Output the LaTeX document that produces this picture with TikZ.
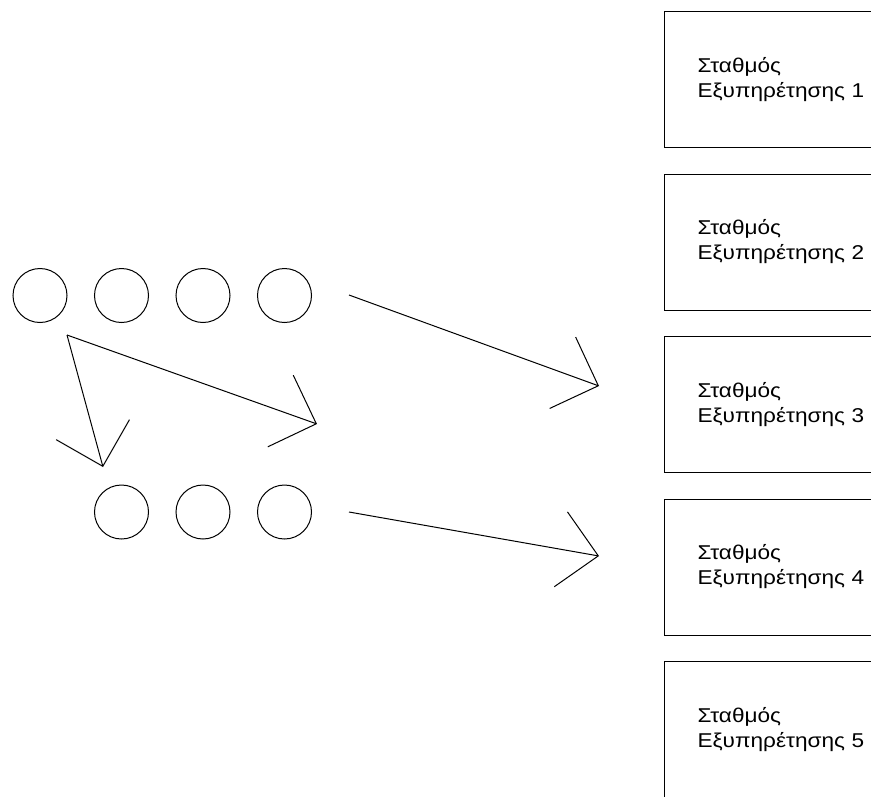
\documentclass[tikz,border=0pt]{standalone}
\usepackage{fontspec}
\setmainfont{Liberation Sans}
\newfontfamily\stathmosfont[FakeStretch = 1.13]{Liberation Sans}
\usetikzlibrary{arrows.meta}

\begin{document}
\begin{tikzpicture}[x = 1pt , y = -1pt , line width = 1pt ,
		pelatis/.style = { circle , draw , minimum size = 54pt , inner sep = 0pt } ,
		stathmos/.style = { draw , anchor = north west , minimum height = 136pt , text width = 210pt ,
			inner xsep = 33pt , align = left , font = \stathmosfont\fontsize{20}{25}\selectfont } ,
		velos/.style = { -{Straight Barb[length = 38pt , width = 76pt]} } ]
				\useasboundingbox (0,0) rectangle (871,796);
				\clip (0,0) rectangle (871,796);
				% stations
				\foreach \i in {1,...,5}
					\node[stathmos] (s\i) at (664,{11 + (\i - 1) * 162.5}) {Σταθμός\\Εξυπηρέτησης \i};
				% queues
				\foreach \i/\x in {1/40 , 2/121.5 , 3/203 , 4/284.5}
					\node[pelatis] (p\i) at (\x,295.5) {};
				\foreach \i/\x in {1/121.5 , 2/203 , 3/284.5}
					\node[pelatis] (q\i) at (\x,512) {};
				% arrows
				\coordinate (a0) at (67,335);
				\coordinate (a1) at (317,424);
				\coordinate (a2) at (103,467);
				\coordinate (b0) at (349,295);
				\coordinate (b1) at (599,386);
				\coordinate (c0) at (349,512);
				\coordinate (c1) at (599,556);
				\draw[velos] (a0) -- (a1);
				\draw[velos] (a0) -- (a2);
				\draw[velos] (b0) -- (b1);
				\draw[velos] (c0) -- (c1);
			\end{tikzpicture}
\end{document}
